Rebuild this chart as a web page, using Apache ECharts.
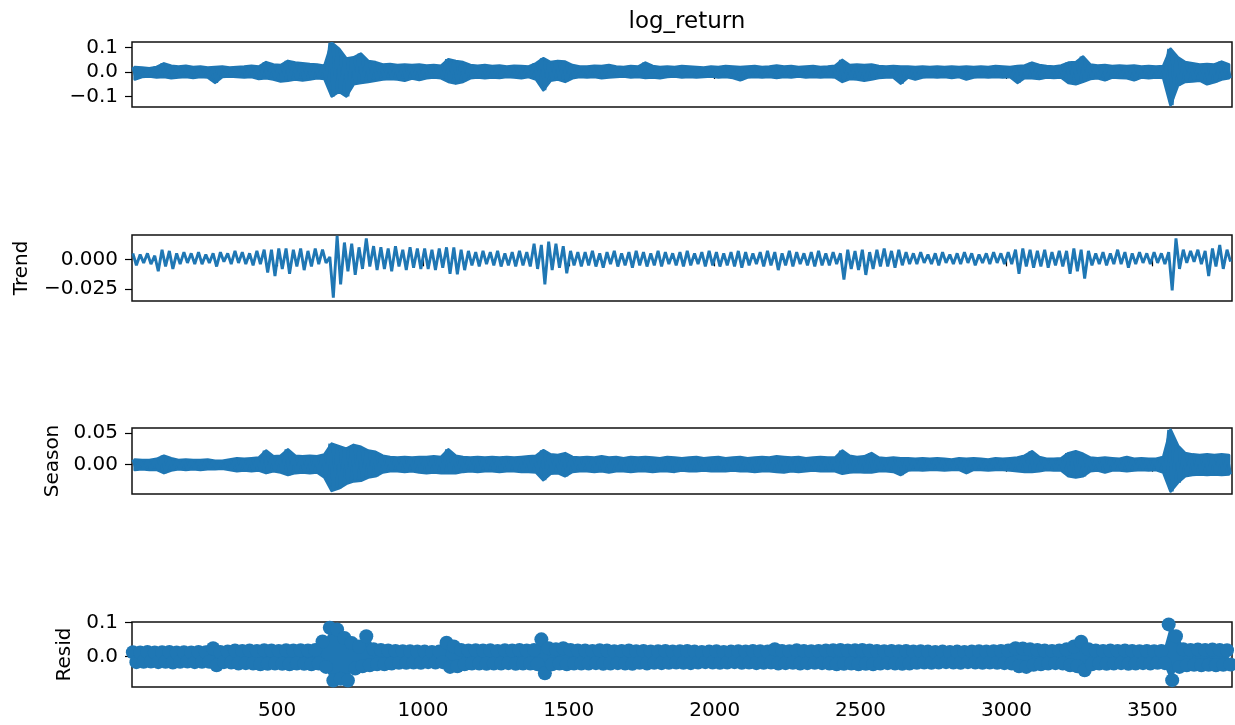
<!DOCTYPE html>
<html>
<head>
<meta charset="utf-8">
<script src="https://cdn.jsdelivr.net/npm/echarts@6/dist/echarts.min.js"></script>
<style>html,body{margin:0;padding:0;background:#fff}#main{width:1235px;height:725px}</style>
</head>
<body>
<div id="main"></div>
<script>
// each array entry = high / low seen in one 25-step bin of the index
var binWidth = 25;
var xTicks = [500, 1000, 1500, 2000, 2500, 3000, 3500];

var retHi = [0.020,0.018,0.015,0.020,0.035,0.025,0.022,0.025,0.020,0.022,
  0.018,0.020,0.022,0.018,0.020,0.022,0.025,0.022,0.040,0.030,
  0.028,0.045,0.038,0.035,0.032,0.030,0.025,0.120,0.095,0.055,
  0.060,0.075,0.045,0.040,0.030,0.032,0.028,0.030,0.028,0.030,
  0.026,0.028,0.025,0.052,0.045,0.040,0.028,0.025,0.028,0.024,
  0.026,0.022,0.025,0.024,0.022,0.035,0.056,0.040,0.045,0.042,
  0.028,0.022,0.022,0.025,0.024,0.028,0.022,0.020,0.024,0.022,
  0.038,0.024,0.020,0.022,0.020,0.024,0.022,0.020,0.018,0.022,
  0.020,0.024,0.022,0.020,0.022,0.024,0.020,0.022,0.026,0.022,
  0.024,0.020,0.022,0.024,0.020,0.022,0.025,0.049,0.028,0.030,
  0.028,0.030,0.024,0.022,0.024,0.022,0.022,0.020,0.022,0.020,
  0.022,0.020,0.022,0.020,0.022,0.020,0.022,0.020,0.024,0.022,
  0.020,0.024,0.026,0.038,0.028,0.024,0.022,0.026,0.038,0.040,
  0.063,0.030,0.026,0.028,0.024,0.026,0.024,0.026,0.022,0.024,
  0.022,0.024,0.095,0.060,0.040,0.035,0.030,0.032,0.030,0.042,0.030];
var retLo = [-0.030,-0.020,-0.018,-0.022,-0.020,-0.025,-0.022,-0.020,-0.024,-0.020,
  -0.022,-0.044,-0.020,-0.018,-0.020,-0.022,-0.020,-0.028,-0.025,-0.030,
  -0.038,-0.035,-0.030,-0.034,-0.030,-0.025,-0.028,-0.100,-0.080,-0.100,
  -0.050,-0.045,-0.040,-0.035,-0.030,-0.028,-0.030,-0.035,-0.026,-0.032,
  -0.025,-0.022,-0.025,-0.040,-0.047,-0.040,-0.025,-0.022,-0.025,-0.022,
  -0.024,-0.020,-0.022,-0.025,-0.020,-0.030,-0.074,-0.035,-0.030,-0.040,
  -0.025,-0.020,-0.022,-0.020,-0.025,-0.022,-0.020,-0.018,-0.022,-0.020,
  -0.024,-0.022,-0.025,-0.020,-0.018,-0.022,-0.020,-0.022,-0.020,-0.018,
  -0.022,-0.020,-0.024,-0.033,-0.022,-0.020,-0.022,-0.020,-0.024,-0.020,
  -0.022,-0.018,-0.022,-0.020,-0.022,-0.020,-0.022,-0.040,-0.028,-0.030,
  -0.035,-0.030,-0.024,-0.022,-0.022,-0.047,-0.022,-0.030,-0.022,-0.020,
  -0.022,-0.020,-0.024,-0.020,-0.030,-0.022,-0.020,-0.022,-0.020,-0.022,
  -0.020,-0.044,-0.024,-0.025,-0.028,-0.022,-0.024,-0.022,-0.045,-0.050,
  -0.040,-0.028,-0.025,-0.033,-0.022,-0.024,-0.025,-0.033,-0.022,-0.025,
  -0.022,-0.024,-0.136,-0.055,-0.040,-0.038,-0.035,-0.050,-0.042,-0.030,-0.025];

var trendHi = [0.005,0.004,0.005,0.003,0.008,0.007,0.005,0.006,0.005,0.006,
  0.004,0.005,0.006,0.005,0.007,0.006,0.005,0.007,0.008,0.008,
  0.009,0.009,0.008,0.009,0.007,0.009,0.008,0.002,0.0195,0.014,
  0.013,0.010,0.0175,0.011,0.010,0.009,0.011,0.008,0.010,0.009,
  0.009,0.008,0.009,0.010,0.010,0.008,0.007,0.006,0.007,0.006,
  0.007,0.005,0.006,0.007,0.006,0.013,0.012,0.0147,0.013,0.011,
  0.007,0.006,0.006,0.007,0.005,0.006,0.007,0.005,0.006,0.007,
  0.006,0.005,0.007,0.006,0.005,0.006,0.007,0.005,0.006,0.007,
  0.006,0.005,0.006,0.007,0.006,0.005,0.006,0.007,0.006,0.005,
  0.007,0.006,0.005,0.006,0.007,0.005,0.006,0.005,0.008,0.007,
  0.008,0.006,0.008,0.009,0.007,0.008,0.006,0.005,0.006,0.004,
  0.005,0.006,0.004,0.005,0.006,0.005,0.004,0.005,0.006,0.005,
  0.006,0.008,0.009,0.008,0.007,0.008,0.006,0.007,0.007,0.009,
  0.008,0.007,0.005,0.006,0.005,0.008,0.006,0.005,0.006,0.005,
  0.006,0.005,0.006,0.0175,0.008,0.007,0.008,0.007,0.009,0.012,0.008];
var trendLo = [-0.005,-0.003,-0.004,-0.010,-0.006,-0.008,-0.004,-0.003,-0.004,-0.004,
  -0.003,-0.006,-0.002,-0.004,-0.003,-0.004,-0.005,-0.004,-0.011,-0.014,
  -0.008,-0.012,-0.006,-0.009,-0.006,-0.004,-0.003,-0.032,-0.021,-0.010,
  -0.013,-0.008,-0.006,-0.009,-0.008,-0.010,-0.006,-0.009,-0.007,-0.008,
  -0.008,-0.009,-0.007,-0.012,-0.0125,-0.009,-0.005,-0.006,-0.004,-0.005,
  -0.006,-0.005,-0.006,-0.005,-0.006,-0.008,-0.021,-0.009,-0.007,-0.0117,
  -0.005,-0.006,-0.005,-0.006,-0.007,-0.004,-0.006,-0.005,-0.007,-0.005,
  -0.006,-0.005,-0.006,-0.004,-0.005,-0.006,-0.005,-0.004,-0.006,-0.005,
  -0.006,-0.005,-0.006,-0.007,-0.005,-0.004,-0.006,-0.005,-0.009,-0.005,
  -0.006,-0.004,-0.005,-0.006,-0.005,-0.005,-0.004,-0.017,-0.008,-0.009,
  -0.013,-0.008,-0.006,-0.006,-0.007,-0.005,-0.004,-0.004,-0.003,-0.004,
  -0.005,-0.003,-0.004,-0.004,-0.003,-0.005,-0.003,-0.004,-0.003,-0.004,
  -0.004,-0.012,-0.006,-0.007,-0.006,-0.007,-0.005,-0.006,-0.012,-0.010,
  -0.016,-0.005,-0.004,-0.005,-0.004,-0.004,-0.007,-0.004,-0.003,-0.004,
  -0.003,-0.004,-0.026,-0.008,-0.003,-0.002,-0.004,-0.014,-0.006,-0.008,-0.002];

var seasonHi = [0.008,0.007,0.007,0.009,0.014,0.010,0.007,0.008,0.007,0.007,
  0.008,0.006,0.006,0.008,0.010,0.009,0.010,0.011,0.022,0.013,
  0.014,0.024,0.014,0.013,0.014,0.013,0.016,0.033,0.029,0.025,
  0.031,0.028,0.022,0.020,0.014,0.012,0.011,0.012,0.011,0.012,
  0.012,0.013,0.012,0.024,0.014,0.012,0.011,0.012,0.011,0.012,
  0.011,0.012,0.011,0.012,0.013,0.014,0.0226,0.016,0.015,0.018,
  0.012,0.011,0.012,0.011,0.013,0.011,0.012,0.010,0.012,0.011,
  0.012,0.011,0.010,0.012,0.011,0.010,0.011,0.012,0.010,0.011,
  0.012,0.010,0.011,0.012,0.010,0.011,0.012,0.011,0.013,0.012,
  0.011,0.012,0.010,0.011,0.012,0.011,0.011,0.022,0.014,0.012,
  0.013,0.018,0.011,0.010,0.011,0.010,0.010,0.009,0.010,0.009,
  0.010,0.009,0.008,0.010,0.009,0.010,0.009,0.008,0.010,0.009,
  0.010,0.011,0.014,0.021,0.012,0.009,0.009,0.010,0.018,0.021,
  0.017,0.011,0.010,0.011,0.010,0.009,0.012,0.009,0.010,0.009,
  0.009,0.012,0.055,0.030,0.018,0.016,0.015,0.016,0.015,0.016,0.015];
var seasonLo = [-0.008,-0.007,-0.008,-0.008,-0.013,-0.009,-0.007,-0.008,-0.007,-0.008,
  -0.007,-0.007,-0.006,-0.008,-0.010,-0.009,-0.010,-0.009,-0.013,-0.010,
  -0.012,-0.016,-0.013,-0.012,-0.013,-0.012,-0.020,-0.041,-0.037,-0.030,
  -0.026,-0.025,-0.020,-0.018,-0.012,-0.010,-0.010,-0.011,-0.010,-0.012,
  -0.013,-0.012,-0.013,-0.013,-0.013,-0.011,-0.010,-0.011,-0.010,-0.010,
  -0.011,-0.010,-0.010,-0.011,-0.011,-0.012,-0.024,-0.014,-0.013,-0.018,
  -0.011,-0.010,-0.010,-0.011,-0.010,-0.012,-0.010,-0.010,-0.011,-0.010,
  -0.010,-0.011,-0.010,-0.010,-0.011,-0.009,-0.010,-0.010,-0.009,-0.010,
  -0.010,-0.010,-0.009,-0.010,-0.010,-0.011,-0.010,-0.010,-0.011,-0.012,
  -0.010,-0.011,-0.010,-0.009,-0.010,-0.010,-0.010,-0.014,-0.012,-0.011,
  -0.012,-0.012,-0.010,-0.010,-0.011,-0.016,-0.009,-0.008,-0.009,-0.008,
  -0.008,-0.009,-0.008,-0.008,-0.013,-0.008,-0.008,-0.009,-0.008,-0.008,
  -0.009,-0.010,-0.011,-0.011,-0.010,-0.008,-0.009,-0.009,-0.018,-0.020,
  -0.018,-0.010,-0.009,-0.012,-0.009,-0.009,-0.010,-0.009,-0.008,-0.009,
  -0.008,-0.012,-0.042,-0.028,-0.018,-0.016,-0.015,-0.016,-0.015,-0.016,-0.015];

var residHi = [0.013,0.012,0.014,0.012,0.013,0.014,0.012,0.013,0.012,0.014,
  0.013,0.025,0.014,0.015,0.018,0.017,0.018,0.017,0.019,0.018,
  0.017,0.019,0.018,0.019,0.018,0.020,0.045,0.085,0.080,0.055,
  0.040,0.030,0.060,0.022,0.020,0.018,0.017,0.016,0.016,0.015,
  0.015,0.014,0.015,0.041,0.030,0.020,0.018,0.019,0.018,0.019,
  0.017,0.019,0.018,0.020,0.018,0.020,0.051,0.025,0.022,0.025,
  0.020,0.018,0.018,0.017,0.019,0.018,0.016,0.017,0.018,0.016,
  0.017,0.015,0.016,0.017,0.015,0.016,0.017,0.015,0.014,0.015,
  0.016,0.014,0.015,0.016,0.015,0.017,0.016,0.015,0.022,0.017,
  0.016,0.019,0.017,0.016,0.017,0.018,0.019,0.020,0.018,0.019,
  0.020,0.018,0.017,0.016,0.017,0.016,0.017,0.015,0.016,0.015,
  0.014,0.015,0.014,0.015,0.014,0.015,0.016,0.015,0.016,0.017,
  0.018,0.025,0.024,0.022,0.020,0.018,0.017,0.018,0.022,0.030,
  0.044,0.022,0.018,0.017,0.018,0.017,0.018,0.017,0.016,0.017,
  0.016,0.017,0.095,0.060,0.022,0.020,0.021,0.020,0.021,0.020,0.019];
var residLo = [-0.016,-0.015,-0.014,-0.016,-0.015,-0.017,-0.015,-0.014,-0.016,-0.015,
  -0.015,-0.025,-0.016,-0.017,-0.020,-0.019,-0.020,-0.022,-0.021,-0.020,
  -0.021,-0.022,-0.020,-0.021,-0.022,-0.020,-0.030,-0.070,-0.065,-0.070,
  -0.035,-0.028,-0.025,-0.022,-0.022,-0.020,-0.018,-0.018,-0.017,-0.018,
  -0.016,-0.017,-0.016,-0.030,-0.028,-0.022,-0.020,-0.020,-0.021,-0.020,
  -0.020,-0.019,-0.021,-0.020,-0.020,-0.022,-0.049,-0.022,-0.020,-0.022,
  -0.020,-0.020,-0.020,-0.019,-0.021,-0.020,-0.019,-0.020,-0.021,-0.018,
  -0.020,-0.018,-0.019,-0.018,-0.017,-0.018,-0.019,-0.017,-0.016,-0.017,
  -0.018,-0.017,-0.016,-0.018,-0.017,-0.019,-0.018,-0.017,-0.020,-0.019,
  -0.018,-0.020,-0.019,-0.018,-0.019,-0.020,-0.022,-0.021,-0.020,-0.022,
  -0.021,-0.022,-0.020,-0.019,-0.020,-0.021,-0.020,-0.018,-0.017,-0.018,
  -0.017,-0.016,-0.017,-0.018,-0.016,-0.017,-0.018,-0.017,-0.018,-0.019,
  -0.020,-0.028,-0.030,-0.024,-0.022,-0.020,-0.019,-0.020,-0.025,-0.028,
  -0.040,-0.022,-0.020,-0.021,-0.020,-0.019,-0.021,-0.020,-0.019,-0.020,
  -0.018,-0.019,-0.069,-0.030,-0.025,-0.024,-0.025,-0.024,-0.025,-0.024,-0.023];

// y tick values / labels per panel
var retTicks = [-0.1, 0, 0.1], retLabels = ['\u22120.1', '0.0', '0.1'];
var trendTicks = [-0.025, 0], trendLabels = ['\u22120.025', '0.000'];
var seasonTicks = [0, 0.05], seasonLabels = ['0.00', '0.05'];
var residTicks = [0, 0.1], residLabels = ['0.0', '0.1'];

var blue = '#1f77b4';
var font = 'DejaVu Sans';
var fs = 20;

// hi early in the bin, lo later in the bin -> dense up/down trace
function zigzag(hi, lo) {
    var pts = [];
    for (var i = 0; i < hi.length; i++) {
        pts.push([i * binWidth + 6, hi[i]]);
        pts.push([i * binWidth + 18, lo[i]]);
    }
    return pts;
}

var panels = [
    {top: 42, height: 65, min: -0.144, max: 0.1235, ticks: retTicks, labels: retLabels, name: ''},
    {top: 235, height: 66, min: -0.0348, max: 0.0203, ticks: trendTicks, labels: trendLabels, name: 'Trend', gap: 100},
    {top: 428, height: 66, min: -0.0462, max: 0.0579, ticks: seasonTicks, labels: seasonLabels, name: 'Season', gap: 69},
    {top: 622, height: 65, min: -0.0891, max: 0.102, ticks: residTicks, labels: residLabels, name: 'Resid', gap: 54}
];

var grids = [], xAxes = [], yAxes = [];
panels.forEach(function (p, k) {
    grids.push({left: 132, width: 1100, top: p.top, height: p.height,
        show: true, borderColor: '#111', borderWidth: 1.5, backgroundColor: 'transparent'});
    xAxes.push({
        type: 'value', gridIndex: k, min: 3, max: 3773,
        splitLine: {show: false}, axisLine: {show: false},
        axisTick: {show: true, customValues: xTicks, length: 7, lineStyle: {color: '#000', width: 1.2}},
        axisLabel: {show: k === 3, customValues: xTicks, margin: 14,
            color: '#000', fontSize: fs, fontFamily: font,
            formatter: function (v) { return String(v); }}
    });
    yAxes.push({
        type: 'value', gridIndex: k, min: p.min, max: p.max,
        name: p.name, nameLocation: 'middle', nameGap: p.gap || 0, nameRotate: 90,
        nameTextStyle: {color: '#000', fontSize: fs, fontFamily: font},
        splitLine: {show: false}, axisLine: {show: false},
        axisTick: {show: true, customValues: p.ticks, length: 7, lineStyle: {color: '#000', width: 1.2}},
        axisLabel: {customValues: p.ticks, margin: 14, color: '#000', fontSize: fs, fontFamily: font,
            formatter: function (v) {
                for (var j = 0; j < p.ticks.length; j++) {
                    if (Math.abs(p.ticks[j] - v) < 1e-9) return p.labels[j];
                }
                return '';
            }}
    });
});

var series = [];
// filled envelope between hi and lo, drawn once as one polygon
function addBand(k, hi, lo, edgeWidth) {
    var data = hi.map(function (h, i) { return [i * binWidth + 12.5, h, lo[i]]; });
    series.push({
        type: 'custom', xAxisIndex: k, yAxisIndex: k, data: data, clip: true,
        encode: {x: 0, y: [1, 2]},
        renderItem: function (params, api) {
            if (params.dataIndex !== 0) return null;
            var top = [], bottom = [];
            for (var i = 0; i < data.length; i++) {
                top.push(api.coord([data[i][0], data[i][1]]));
                bottom.push(api.coord([data[i][0], data[i][2]]));
            }
            return {
                type: 'polygon',
                shape: {points: top.concat(bottom.reverse())},
                style: {fill: blue, stroke: edgeWidth ? blue : null, lineWidth: edgeWidth, lineJoin: 'round'}
            };
        }
    });
}
function addTrace(k, hi, lo) {
    series.push({
        type: 'line', xAxisIndex: k, yAxisIndex: k, data: zigzag(hi, lo),
        showSymbol: false, clip: true, lineStyle: {color: blue, width: 2.9}
    });
}

addBand(0, retHi, retLo, 2.9);
addTrace(0, retHi, retLo);
addTrace(1, trendHi, trendLo);
addBand(2, seasonHi, seasonLo, 2.9);
addTrace(2, seasonHi, seasonLo);
addBand(3, residHi, residLo, 0);
series.push({
    type: 'scatter', xAxisIndex: 3, yAxisIndex: 3, data: zigzag(residHi, residLo),
    symbol: 'circle', symbolSize: 14, clip: true, itemStyle: {color: blue, opacity: 1}
});

var chart = echarts.init(document.getElementById('main'));
chart.setOption({
    animation: false,
    backgroundColor: '#fff',
    title: {text: 'log_return', left: 682, top: 6, textAlign: 'center',
        textStyle: {color: '#000', fontSize: 23, fontWeight: 'normal', fontFamily: font}},
    grid: grids,
    xAxis: xAxes,
    yAxis: yAxes,
    series: series
});
</script>
</body>
</html>
